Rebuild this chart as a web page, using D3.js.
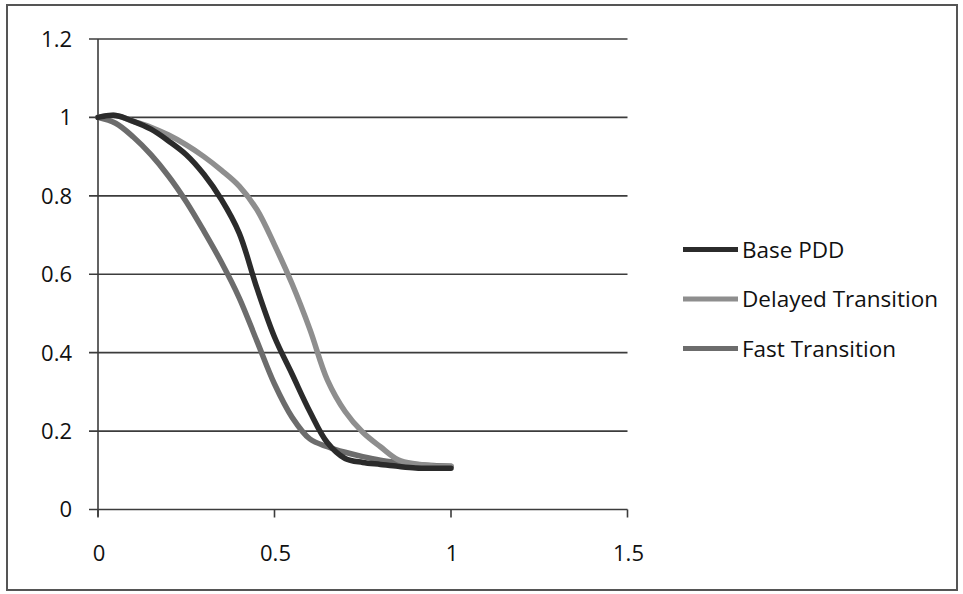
<!DOCTYPE html>
<html>
<head>
<meta charset="utf-8">
<script src="https://cdn.jsdelivr.net/npm/d3@7/dist/d3.min.js"></script>
<style>
  html, body { margin: 0; padding: 0; background: #fff; }
  svg { display: block; }
  text { font-family: "Open Sans", "Liberation Sans", sans-serif; fill: #111; }
</style>
</head>
<body>
<svg id="chart" width="963" height="594"></svg>
<script>
// Sample positions along the x axis
const xValues = [0, 0.05, 0.1, 0.15, 0.2, 0.25, 0.3, 0.35, 0.4, 0.45, 0.5,
                 0.55, 0.6, 0.65, 0.7, 0.75, 0.8, 0.85, 0.9, 0.95, 1];

// Series values
const basePDD = [1, 1.005, 0.99, 0.97, 0.94, 0.905, 0.855, 0.79, 0.705, 0.565, 0.44,
                 0.345, 0.25, 0.17, 0.13, 0.12, 0.115, 0.11, 0.106, 0.105, 0.105];
const delayedTransition = [1, 1.005, 0.99, 0.975, 0.955, 0.93, 0.9, 0.865, 0.825, 0.765, 0.675,
                           0.575, 0.46, 0.33, 0.25, 0.197, 0.16, 0.127, 0.116, 0.111, 0.11];
const fastTransition = [1, 0.985, 0.95, 0.905, 0.85, 0.785, 0.71, 0.63, 0.54, 0.43, 0.32,
                        0.235, 0.18, 0.16, 0.146, 0.135, 0.126, 0.12, 0.115, 0.112, 0.11];

const seriesNames = ["Base PDD", "Delayed Transition", "Fast Transition"];
const seriesColors = ["#2b2b2b", "#8e8e8e", "#6c6c6c"];

// Axis ticks
const xTicks = [0, 0.5, 1, 1.5];
const yTicks = [0, 0.2, 0.4, 0.6, 0.8, 1, 1.2];

const series = [basePDD, delayedTransition, fastTransition].map((vals, i) => ({
  name: seriesNames[i],
  color: seriesColors[i],
  points: vals.map((v, j) => [xValues[j], v])
}));

const svg = d3.select("#chart");

// Outer frame
svg.append("rect")
  .attr("x", 7).attr("y", 5)
  .attr("width", 950).attr("height", 585)
  .attr("fill", "none")
  .attr("stroke", "#555")
  .attr("stroke-width", 2);

const x = d3.scaleLinear().domain([0, 1.5]).range([98, 627.5]);
const y = d3.scaleLinear().domain([0, 1.2]).range([509.5, 39]);

// Horizontal gridlines with short outward ticks on the left
svg.append("g")
  .selectAll("line")
  .data(yTicks)
  .join("line")
  .attr("x1", x(0) - 9).attr("x2", x(1.5))
  .attr("y1", d => y(d)).attr("y2", d => y(d))
  .attr("stroke", "#3c3c3c")
  .attr("stroke-width", 1.6);

// Y axis line
svg.append("line")
  .attr("x1", x(0)).attr("x2", x(0))
  .attr("y1", y(1.2)).attr("y2", y(0) + 7)
  .attr("stroke", "#3c3c3c").attr("stroke-width", 1.6);

// X axis ticks
svg.append("g")
  .selectAll("line")
  .data(xTicks)
  .join("line")
  .attr("x1", d => x(d)).attr("x2", d => x(d))
  .attr("y1", y(0)).attr("y2", y(0) + 8)
  .attr("stroke", "#3c3c3c").attr("stroke-width", 1.6);

// Y tick labels
svg.append("g")
  .selectAll("text")
  .data(yTicks)
  .join("text")
  .attr("x", 72)
  .attr("y", d => y(d))
  .attr("dy", "0.36em")
  .attr("text-anchor", "end")
  .attr("font-size", 22)
  .text(d => d3.format("")(d));

// X tick labels
svg.append("g")
  .selectAll("text")
  .data(xTicks)
  .join("text")
  .attr("x", d => x(d) + 1)
  .attr("y", 561)
  .attr("text-anchor", "middle")
  .attr("font-size", 22)
  .text(d => d3.format("")(d));

// Smoothed series lines
const line = d3.line()
  .x(d => x(d[0]))
  .y(d => y(d[1]))
  .curve(d3.curveCatmullRom.alpha(0.5));

svg.append("g")
  .selectAll("path")
  .data(series.slice().reverse())
  .join("path")
  .attr("d", d => line(d.points))
  .attr("fill", "none")
  .attr("stroke", d => d.color)
  .attr("stroke-width", 5.5)
  .attr("stroke-linecap", "round")
  .attr("stroke-linejoin", "round");

// Legend
const legend = svg.append("g");
const legendItems = legend.selectAll("g")
  .data(series)
  .join("g")
  .attr("transform", (d, i) => `translate(683, ${249.5 + i * 49.5})`);

legendItems.append("line")
  .attr("x1", 0).attr("x2", 55)
  .attr("y1", 0).attr("y2", 0)
  .attr("stroke", d => d.color)
  .attr("stroke-width", 5);

legendItems.append("text")
  .attr("x", 59)
  .attr("y", 0)
  .attr("dy", "0.36em")
  .attr("font-size", 22.5)
  .text(d => d.name);
</script>
</body>
</html>
